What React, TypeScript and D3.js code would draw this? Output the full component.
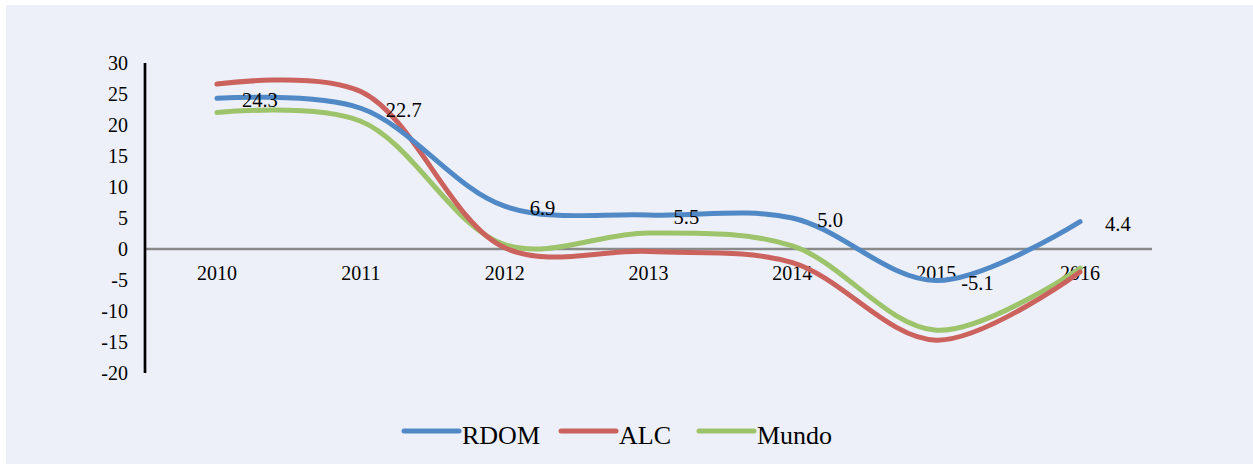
import React from 'react';
import * as d3 from 'd3';

// growth rates 2010-2016
const years = ['2010', '2011', '2012', '2013', '2014', '2015', '2016'];
const rdom = [24.3, 22.7, 6.9, 5.5, 5.0, -5.1, 4.4];
const alc = [26.6, 25.4, 0.2, -0.4, -2.2, -14.7, -3.7];
const mundo = [22.0, 20.6, 0.7, 2.6, 0.5, -13.1, -3.1];
const yTicks = [30, 25, 20, 15, 10, 5, 0, -5, -10, -15, -20];

const seriesList = [
  { name: 'RDOM', values: rdom, color: '#5089c6' },
  { name: 'ALC', values: alc, color: '#cb625d' },
  { name: 'Mundo', values: mundo, color: '#9dc36b' },
];

const W = 1253;
const H = 465;
const FONT = '"Liberation Serif", "Times New Roman", serif';

export default function App() {
  const x = d3.scaleBand<string>().domain(years).range([145, 1152]);
  const y = d3.scaleLinear().domain([-20, 30]).range([373, 63]);
  const cx = (yr: string) => (x(yr) as number) + x.bandwidth() / 2;

  const line = d3
    .line<number>()
    .x((_, i) => cx(years[i]))
    .y((d) => y(d))
    .curve(d3.curveCatmullRom.alpha(0.5));

  // legend layout (hand placed to match the reference)
  const legendX = [404, 561, 699];
  const legendY = 431;

  // draw order: green first, then red, blue on top
  const drawOrder = [seriesList[2], seriesList[1], seriesList[0]];

  return (
    <svg
      width={W}
      height={H}
      style={{ position: 'absolute', left: 0, top: 0, display: 'block', background: '#fff' }}
      fontFamily={FONT}
    >
      <rect x={6} y={5} width={W - 6} height={H - 6} fill="#edf0f9" />

      {/* y axis labels */}
      {yTicks.map((t) => (
        <text key={t} x={128} y={y(t)} textAnchor="end" dominantBaseline="central" fontSize={20} fill="#000">
          {t}
        </text>
      ))}

      {/* zero line */}
      <line x1={145} x2={1152} y1={y(0)} y2={y(0)} stroke="#8a8a8a" strokeWidth={2.5} />

      {/* y axis */}
      <line x1={145} x2={145} y1={y(30)} y2={y(-20)} stroke="#000" strokeWidth={2.7} />

      {/* category labels */}
      {years.map((yr) => (
        <text key={yr} x={cx(yr)} y={273} textAnchor="middle" dominantBaseline="central" fontSize={20} fill="#000">
          {yr}
        </text>
      ))}

      {/* series */}
      {drawOrder.map((s) => (
        <path
          key={s.name}
          d={line(s.values) || ''}
          fill="none"
          stroke={s.color}
          strokeWidth={5}
          strokeLinecap="round"
          strokeLinejoin="round"
        />
      ))}

      {/* data labels for RDOM */}
      {rdom.map((v, i) => (
        <text
          key={'lbl' + i}
          x={cx(years[i]) + 25}
          y={y(v) + 2}
          dominantBaseline="central"
          fontSize={20.5}
          fill="#000"
        >
          {v.toFixed(1)}
        </text>
      ))}

      {/* legend */}
      {seriesList.map((s, i) => (
        <g key={'leg' + s.name}>
          <line
            x1={legendX[i]}
            x2={legendX[i] + 55}
            y1={legendY}
            y2={legendY}
            stroke={s.color}
            strokeWidth={5}
            strokeLinecap="round"
          />
          <text x={legendX[i] + 58} y={444} fontSize={26} fill="#000">
            {s.name}
          </text>
        </g>
      ))}
    </svg>
  );
}
